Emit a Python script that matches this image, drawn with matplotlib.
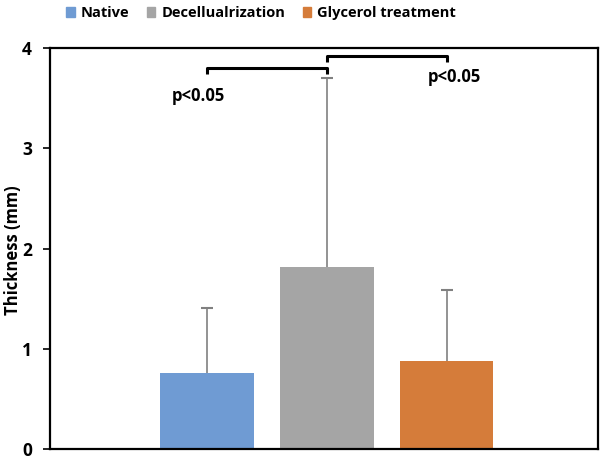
import numpy as np
import matplotlib
matplotlib.use("Agg")
import matplotlib.pyplot as plt
from matplotlib.patches import Patch

# ── Data ──────────────────────────────────────
groups = ["Native", "Decellualrization", "Glycerol treatment"]
means = [0.76, 1.82, 0.88]
upper_err = [0.65, 1.88, 0.71]
colors = ["#6F9BD3", "#A5A5A5", "#D57C3A"]
y_ticks = [0, 1, 2, 3, 4]

plt.rcParams["font.family"] = ["Open Sans", "DejaVu Sans"]

fig = plt.figure(figsize=(6.0, 4.59), dpi=100)
ax = fig.add_axes([0.0833, 0.0218, 0.913, 0.8736])

x = np.arange(len(groups))
tops = np.array(means) + np.array(upper_err)
for i in range(len(groups)):
    ax.bar(x[i], means[i], width=0.78, color=colors[i], label=groups[i], zorder=2)
# upper-only error bars
ax.vlines(x, means, tops, color="#808080", lw=1.2, zorder=3)
ax.plot(x, tops, ls="none", marker="_", ms=8, mew=1.5, color="#808080", zorder=3)

# ── significance brackets ─────────────────────
def bracket(x1, x2, y, drop, label, tx, ty):
    ax.plot([x1, x1, x2, x2], [y - drop, y, y, y - drop], color="black", lw=2.2,
            solid_capstyle="butt", zorder=4)
    ax.text(tx, ty, label, ha="center", va="center", fontsize=12, fontweight="bold")

bracket(x[0], x[1], 3.80, 0.06, "p<0.05", -0.07, 3.52)
bracket(x[1], x[2], 3.92, 0.06, "p<0.05", 2.06, 3.71)

ax.set_xlim(-1.31, 3.26)
ax.set_ylim(0, 4)
ax.set_yticks(y_ticks)
ax.set_yticklabels([str(t) for t in y_ticks], fontsize=12.5, fontweight="bold")
ax.set_xticks([])
ax.tick_params(axis="y", direction="out", length=5, width=1.2, pad=8)
for s in ax.spines.values():
    s.set_linewidth(1.6)

fig.text(0.022, 0.455, "Thickness (mm)", rotation=90, ha="center", va="center",
         fontsize=12, fontweight="bold")

fig.legend(handles=[Patch(color=c, label=g) for c, g in zip(colors, groups)],
           loc="upper center", bbox_to_anchor=(0.435, 1.015), ncol=3, frameon=False,
           handlelength=0.6, handleheight=0.6, handletextpad=0.4, columnspacing=1.2,
           prop={"weight": "bold", "size": 10.5})

fig.savefig("out.png", dpi=100)
